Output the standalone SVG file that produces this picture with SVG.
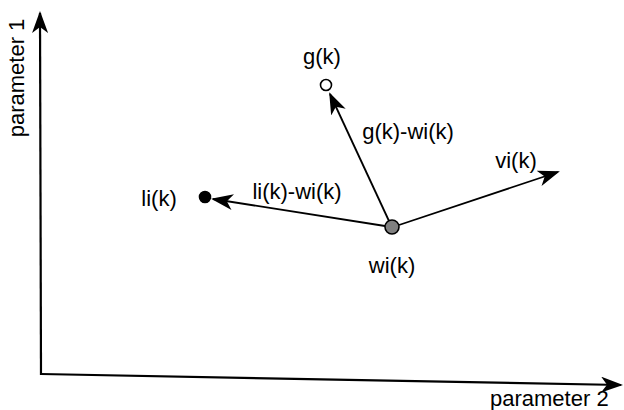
<svg xmlns="http://www.w3.org/2000/svg" width="624" height="410" viewBox="0 0 624 410">
<style>
text{font-family:"Liberation Sans",Arial,sans-serif;font-size:22px;fill:#000}
.ln{stroke:#000;stroke-width:1.8;fill:none}
.ax{stroke:#000;stroke-width:2.2;fill:none}
.nd{stroke:#000;stroke-width:1.6}
</style>
<defs>
<marker id="ah" viewBox="0 0 22 16" refX="20" refY="8" markerWidth="22" markerHeight="16" markerUnits="userSpaceOnUse" orient="auto">
<path d="M0,0 L22,8 L0,16 L6,8 Z" fill="#000"/>
</marker>
</defs>
<g id="connectors">
<line class="ax" x1="41" y1="375" x2="40" y2="13" marker-end="url(#ah)"/>
<line class="ax" x1="41" y1="374" x2="621" y2="385" marker-end="url(#ah)"/>
<line class="ln" x1="389" y1="221" x2="330" y2="94" marker-end="url(#ah)"/>
<line class="ln" x1="385" y1="226" x2="213" y2="199" marker-end="url(#ah)"/>
<line class="ln" x1="399" y1="225" x2="558" y2="172" marker-end="url(#ah)"/>
</g>
<g id="axis-labels">
<text x="490" y="406" font-size="21">parameter 2</text>
<text transform="translate(24,78) rotate(-90)" text-anchor="middle" font-size="21">parameter 1</text>
</g>
<g id="g">
<circle class="nd" cx="326" cy="85" r="5.5" fill="#fff"/>
<text x="322" y="64" text-anchor="middle" font-size="20">g(k)</text>
</g>
<g id="li">
<circle class="nd" cx="205" cy="197" r="5.5" fill="#000"/>
<text x="159" y="206" text-anchor="middle">li(k)</text>
</g>
<g id="wi">
<circle class="nd" cx="392" cy="227" r="7" fill="#808080"/>
<text x="392" y="273" text-anchor="middle">wi(k)</text>
</g>
<g id="vi">
<text x="516" y="168" text-anchor="middle">vi(k)</text>
</g>
<g id="edge-labels">
<text x="408" y="139" text-anchor="middle">g(k)-wi(k)</text>
<text x="297" y="199" text-anchor="middle">li(k)-wi(k)</text>
</g>
</svg>
